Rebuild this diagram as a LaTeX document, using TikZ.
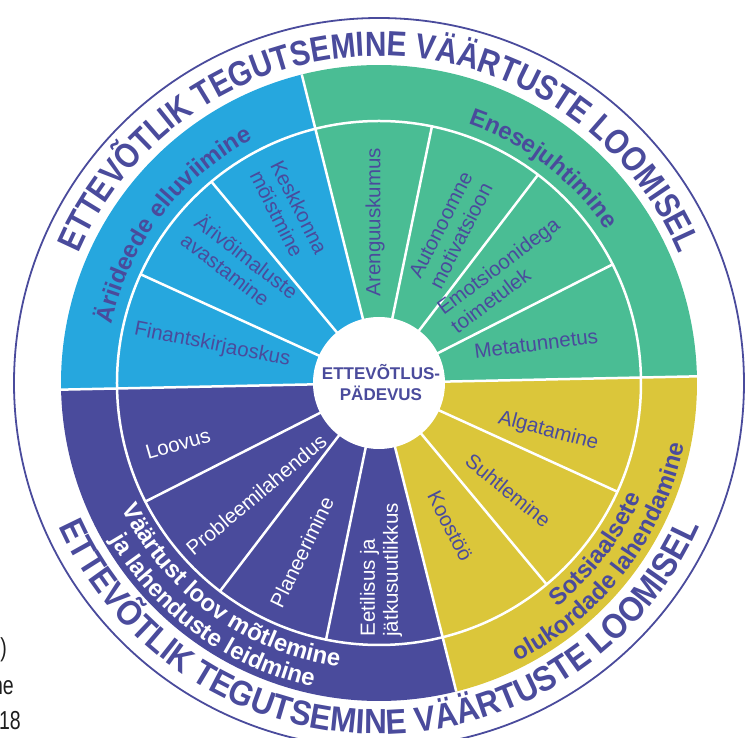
\documentclass[tikz,border=0pt]{standalone}
\usepackage{fontspec}
\setmainfont{Liberation Sans}
\newfontfamily\outerfontA[FakeStretch=0.85]{Liberation Sans}
\newfontfamily\outerfontB[FakeStretch=0.9]{Liberation Sans}
\newfontfamily\fragfont[FakeStretch=0.75]{Liberation Sans}
\usetikzlibrary{decorations.text}
\definecolor{cblue}{RGB}{38,167,222}
\definecolor{cgreen}{RGB}{74,189,148}
\definecolor{cyellow}{RGB}{219,198,58}
\definecolor{cpurple}{RGB}{74,75,156}
\definecolor{fragcol}{RGB}{30,30,30}
\tikzset{
  item/.style={font=\fontsize{20.5}{23}\selectfont, text=cpurple, align=left, inner sep=0pt},
  itemw/.style={item, text=white},
  spoke/.style={white, line width=2.5pt},
  frag/.style={font=\fragfont\fontsize{26}{26}\selectfont, text=fragcol, anchor=base east, inner sep=0pt},
}
\begin{document}
\begin{tikzpicture}[x=1pt,y=1pt]
\useasboundingbox (-379,-355) rectangle (366,383);
\clip (-379,-355) rectangle (366,383);
\pgfmathsetmacro{\sa}{360/14}
\def\rot{1.2}
% sectors
\foreach \s/\e/\c in {0/4/cgreen, 4/7/cblue, 7/11/cpurple, 11/14/cyellow}{
  \fill[\c] (0,0) -- ({\s*\sa+\rot}:318) arc[start angle={\s*\sa+\rot}, end angle={\e*\sa+\rot}, radius=318] -- cycle;
}
% spokes
\foreach \k in {1,2,3,5,6,8,9,10,12,13}{
  \draw[spoke] ({\k*\sa+\rot}:60) -- ({\k*\sa+\rot}:262);
}
\foreach \k in {0,4,7,11}{
  \draw[spoke] (0,0) -- ({\k*\sa+\rot}:318);
}
\draw[spoke] (0,0) circle[radius=262];
\fill[white] (0,0) circle[radius=66];
% outer circle
\draw[cpurple, line width=1.8pt] (0,0) circle[radius=365];
% outer texts
\path[decorate, decoration={text along path, text align=center, text color=cpurple,
  text={|\outerfontA\bfseries\fontsize{35}{35}\selectfont|ETTEVÕTLIK TEGUTSEMINE VÄÄRTUSTE LOOMISEL}}]
  (170:327) arc[start angle=170, end angle=10, radius=327];
\path[decorate, decoration={text along path, text align=center, text color=cpurple,
  text={|\outerfontB\bfseries\fontsize{35}{35}\selectfont|ETTEVÕTLIK TEGUTSEMINE VÄÄRTUSTE LOOMISEL}}]
  (190:351) arc[start angle=190, end angle=350, radius=351];
% ring texts
\path[decorate, decoration={text along path, text align=center, text color=cpurple,
  text={|\bfseries\fontsize{24}{24}\selectfont|Äriideede elluviimine}}]
  (185:274) arc[start angle=185, end angle=100, radius=274];
\path[decorate, decoration={text along path, text align=center, text color=cpurple,
  text={|\bfseries\fontsize{24}{24}\selectfont|Enesejuhtimine}}]
  (95:274) arc[start angle=95, end angle=10, radius=274];
\path[decorate, decoration={text along path, text align=center, text color=white,
  text={|\bfseries\fontsize{24}{24}\selectfont|Väärtust loov mõtlemine}}]
  (190:286) arc[start angle=190, end angle=278, radius=286];
\path[decorate, decoration={text along path, text align=center, text color=white,
  text={|\bfseries\fontsize{24}{24}\selectfont|ja lahenduste leidmine}}]
  (190:311) arc[start angle=190, end angle=278, radius=311];
\path[decorate, decoration={text along path, text align=center, text color=cpurple,
  text={|\bfseries\fontsize{24}{24}\selectfont|Sotsiaalsete}}]
  (-80:286) arc[start angle=-80, end angle=5, radius=286];
\path[decorate, decoration={text along path, text align=center, text color=cpurple,
  text={|\bfseries\fontsize{24}{24}\selectfont|olukordade lahendamine}}]
  (-80:311) arc[start angle=-80, end angle=5, radius=311];
% center
\node[font=\bfseries\fontsize{17}{21}\selectfont, text=cpurple, align=center, inner sep=0pt] (center) at (2,0) {ETTEVÕTLUS-\\PÄDEVUS};
% items: green
\node[item, rotate=7] (meta) at (14:162) {Metatunnetus};
\node[item, rotate=37] (emo) at (40.6:166) {Emotsioonidega\\toimetulek};
\node[item, rotate=63] (auto) at (64.8:169) {Autonoomne\\motivatsioon};
\node[item, rotate=90] (aren) at (91.4:161) {Arenguuskumus};
% blue
\node[item, rotate=-63.1] (kesk) at (117.8:193) {Keskkonna\\mõistmine};
\node[item, rotate=-37.4] (ariv) at (139.7:182) {Ärivõimaluste\\avastamine};
\node[item, rotate=-11.2] (fin) at (167.2:171) {Finantskirjaoskus};
% purple
\node[itemw, rotate=16] (loov) at (196.9:210) {Loovus};
\node[itemw, rotate=40] (prob) at (222.3:166) {Probleemilahendus};
\node[itemw, rotate=64] (plan) at (245.5:186) {Planeerimine};
\node[itemw, rotate=90] (eet) at (270.6:187) {Eetilisus ja\\jätkusuutlikkus};
% yellow
\node[item, rotate=-63] (koos) at (-63.6:160) {Koostöö};
\node[item, rotate=-39] (suht) at (-39.7:168) {Suhtlemine};
\node[item, rotate=-15] (alg) at (-15.9:176) {Algatamine};
% cropped caption fragments
\node[frag] (f1) at (-372,-274) {)};
\node[frag] (f2) at (-365,-312) {ne};
\node[frag] (f3) at (-358,-347) {18};
\end{tikzpicture}
\end{document}
